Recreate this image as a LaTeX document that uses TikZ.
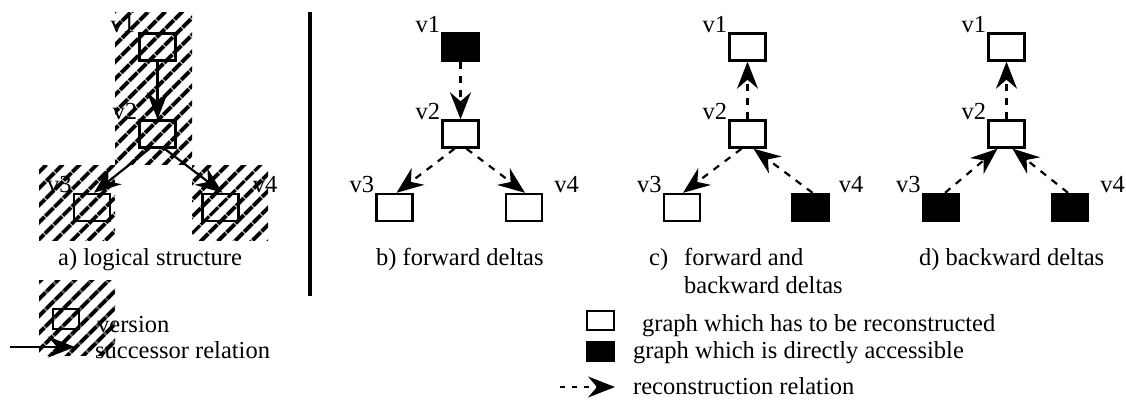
\documentclass[tikz,border=0pt]{standalone}
\usepackage{fontspec}
\setmainfont{Liberation Serif}
\usetikzlibrary{arrows.meta,patterns.meta}
\begin{document}
\begin{tikzpicture}[x=1pt,y=-1pt,
  every node/.style={font=\fontsize{24.5}{29}\selectfont, inner sep=0pt},
  vbox/.style={draw, line width=2.4pt, minimum width=36pt, minimum height=27pt, inner sep=0pt},
  openbox/.style={vbox, fill=white},
  fullbox/.style={vbox, fill=black},
  hatch/.style={pattern={Lines[angle=45,distance=13pt,line width=4.4pt]}},
  tipstyle/.style={-{Stealth[length=27pt,width=21pt,inset=9pt]}},
  succ/.style={line width=2.2pt, tipstyle},
  recon/.style={line width=2.2pt, dash pattern=on 7pt off 7pt, tipstyle},
  lbl/.style={anchor=base east},
  rlbl/.style={anchor=base west},
  captext/.style={anchor=base west}
]
\useasboundingbox (0,0) rectangle (1126,399);

% hatched regions
\fill[hatch] (115,12) rectangle (192,164);
\fill[hatch] (39,165) rectangle (115,240);
\fill[hatch] (192,165) rectangle (268,240);
\fill[hatch] (39,280) rectangle (115,355);

% separator
\draw[line width=4pt] (310,12) -- (310,296);

% ---------- panel a ----------
\node[vbox] (a1) at (157.5,47) {};
\node[vbox] (a2) at (157.5,134) {};
\node[vbox] (a3) at (92,207.5) {};
\node[vbox] (a4) at (220.5,207.5) {};
\node[lbl] (la1) at ([xshift=-3pt]a1.north west) {v1};
\node[lbl] (la2) at ([xshift=-1pt]a2.north west) {v2};
\node[lbl] (la3) at ([xshift=-1pt]a3.north west) {v3};
\node[rlbl] (la4) at ([xshift=13pt]a4.north east) {v4};
\draw[succ] (a1.south) -- (a2.north);
\draw[succ] ([xshift=-8pt]a2.south) -- ([xshift=2pt]a3.north);
\draw[succ] ([xshift=7pt]a2.south) -- ([xshift=2pt]a4.north);
\node[captext] (capa) at (58,265) {a) logical structure};

% ---------- panel b ----------
\node[fullbox] (b1) at (460.5,47) {};
\node[openbox] (b2) at (460.5,134) {};
\node[openbox] (b3) at (394.5,207.5) {};
\node[openbox] (b4) at (524,207.5) {};
\node[lbl] (lb1) at ([xshift=-1pt]b1.north west) {v1};
\node[lbl] (lb2) at ([xshift=-1pt]b2.north west) {v2};
\node[lbl] (lb3) at ([xshift=-1pt]b3.north west) {v3};
\node[rlbl] (lb4) at ([xshift=11pt]b4.north east) {v4};
\draw[recon] (b1.south) -- (b2.north);
\draw[recon] ([xshift=-6pt]b2.south) -- ([xshift=2pt]b3.north);
\draw[recon] ([xshift=6pt]b2.south) -- ([xshift=1pt]b4.north);
\node[captext] (capb) at (376,265) {b) forward deltas};

% ---------- panel c ----------
\node[openbox] (c1) at (747.5,47) {};
\node[openbox] (c2) at (747.5,134) {};
\node[openbox] (c3) at (682,207.5) {};
\node[fullbox] (c4) at (810.5,207.5) {};
\node[lbl] (lc1) at ([xshift=-1pt]c1.north west) {v1};
\node[lbl] (lc2) at ([xshift=-1pt]c2.north west) {v2};
\node[lbl] (lc3) at ([xshift=-1pt]c3.north west) {v3};
\node[rlbl] (lc4) at ([xshift=9pt]c4.north east) {v4};
\draw[recon] (c2.north) -- (c1.south);
\draw[recon] ([xshift=-6pt]c2.south) -- ([xshift=1pt]c3.north);
\draw[recon] ([xshift=2pt]c4.north) -- ([xshift=6pt]c2.south);
\node[captext] (capc1) at (649,265) {c)};
\node[captext] (capc2) at (684,265) {forward and};
\node[captext] (capc3) at (684,293) {backward deltas};

% ---------- panel d ----------
\node[openbox] (d1) at (1006.5,47) {};
\node[openbox] (d2) at (1006.5,134) {};
\node[fullbox] (d3) at (941,207.5) {};
\node[fullbox] (d4) at (1070,207.5) {};
\node[lbl] (ld1) at ([xshift=-1pt]d1.north west) {v1};
\node[lbl] (ld2) at ([xshift=-1pt]d2.north west) {v2};
\node[lbl] (ld3) at ([xshift=-1pt]d3.north west) {v3};
\node[rlbl] (ld4) at ([xshift=11pt]d4.north east) {v4};
\draw[recon] (d2.north) -- (d1.south);
\draw[recon] ([xshift=4pt]d3.north) -- ([xshift=-9pt]d2.south);
\draw[recon] ([xshift=-2pt]d4.north) -- ([xshift=6pt]d2.south);
\node[captext] (capd) at (919,265) {d) backward deltas};

% ---------- legend left ----------
\node[vbox, minimum width=26pt, minimum height=20pt] (lgv) at (66,319) {};
\node[captext] (lgvt) at (97,332) {version};
\coordinate (lgs0) at (10,347);
\coordinate (lgs1) at (75,347);
\draw[succ] (lgs0) -- (lgs1);
\node[captext] (lgst) at (95,358) {successor relation};

% ---------- legend right ----------
\node[openbox, minimum width=27pt, minimum height=19pt] (lgo) at (600.5,320.5) {};
\node[captext] (lgot) at (642,331) {graph which has to be reconstructed};
\node[fullbox, minimum width=27pt, minimum height=19pt] (lgf) at (600.5,351.5) {};
\node[captext] (lgft) at (633,358) {graph which is directly accessible};
\coordinate (lgr0) at (560,387);
\coordinate (lgr1) at (615,387);
\draw[line width=2.2pt, dash pattern=on 5pt off 7pt, tipstyle] (lgr0) -- (lgr1);
\node[captext] (lgrt) at (633,394) {reconstruction relation};
\end{tikzpicture}
\end{document}
